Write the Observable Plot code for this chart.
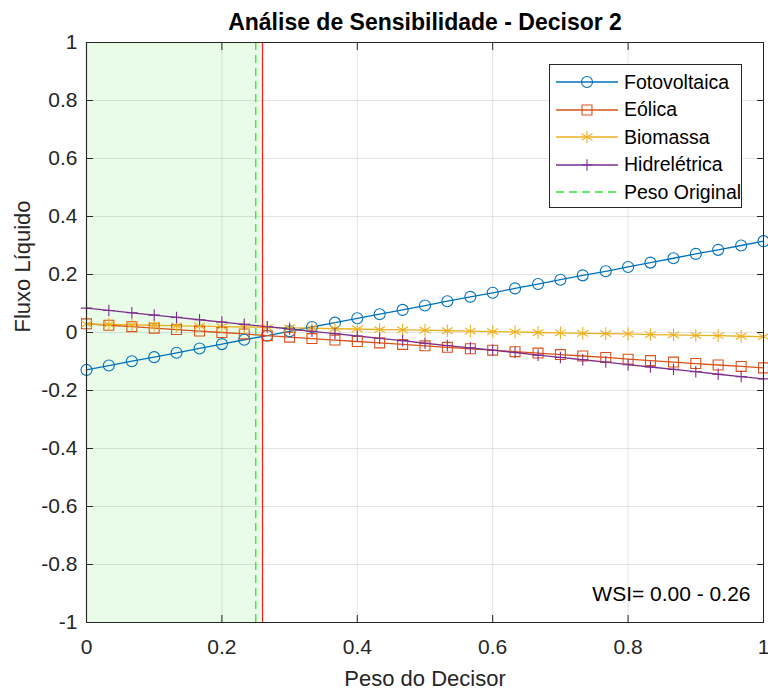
<!DOCTYPE html>
<html>
<head>
<meta charset="utf-8">
<script src="https://cdn.jsdelivr.net/npm/d3@7"></script>
<script src="https://cdn.jsdelivr.net/npm/@observablehq/plot@0.6"></script>
<style>
  body { margin: 0; background: #fff; }
  #wrap { position: relative; width: 768px; height: 690px; }
  #legend { position: absolute; left: 549px; top: 64px; width: 193px; height: 144px;
    border: 1px solid #262626; background: #fff; box-sizing: border-box;
    font-family: "Liberation Sans", Arial, Helvetica, sans-serif; font-size: 19.5px; color: #000; }
  .row { position: absolute; left: 6px; height: 26px; display: flex; align-items: center; white-space: nowrap; }
  .row svg { margin-right: 6px; }
</style>
</head>
<body>
<div id="wrap"><div id="legend"></div></div>
<script>
// ---- data ----
const weights = [0, 0.033, 0.067, 0.1, 0.133, 0.167, 0.2, 0.233, 0.267, 0.3, 0.333, 0.367, 0.4, 0.433, 0.467, 0.5,
  0.533, 0.567, 0.6, 0.633, 0.667, 0.7, 0.733, 0.767, 0.8, 0.833, 0.867, 0.9, 0.933, 0.967, 1];
const fotovoltaica = [-0.129, -0.114, -0.099, -0.085, -0.070, -0.055, -0.040, -0.025, -0.011, 0.004, 0.019, 0.034,
  0.049, 0.063, 0.078, 0.093, 0.108, 0.123, 0.137, 0.152, 0.167, 0.182, 0.197, 0.211, 0.226, 0.241, 0.256, 0.271,
  0.285, 0.300, 0.315];
const eolica = [0.030, 0.025, 0.020, 0.015, 0.010, 0.005, 0.000, -0.005, -0.011, -0.016, -0.021, -0.026, -0.031,
  -0.036, -0.041, -0.046, -0.051, -0.056, -0.061, -0.066, -0.071, -0.076, -0.081, -0.086, -0.092, -0.097, -0.102,
  -0.107, -0.112, -0.117, -0.122];
const biomassa = [0.029, 0.028, 0.026, 0.025, 0.023, 0.022, 0.020, 0.019, 0.018, 0.016, 0.015, 0.013, 0.012, 0.010,
  0.009, 0.008, 0.006, 0.005, 0.003, 0.002, 0.000, -0.001, -0.003, -0.004, -0.005, -0.007, -0.008, -0.010, -0.011,
  -0.013, -0.014];
const hidreletrica = [0.084, 0.076, 0.068, 0.060, 0.052, 0.044, 0.036, 0.028, 0.020, 0.012, 0.004, -0.004, -0.012,
  -0.020, -0.028, -0.037, -0.045, -0.053, -0.061, -0.069, -0.078, -0.086, -0.094, -0.102, -0.111, -0.119, -0.127,
  -0.135, -0.144, -0.152, -0.160];

const seriesNames = ["Fotovoltaica", "Eólica", "Biomassa", "Hidrelétrica"];
const seriesValues = [fotovoltaica, eolica, biomassa, hidreletrica];
const originalLabel = "Peso Original";
const wsiBounds = [0, 0.26];
const originalWeight = [0.25];
const wsiText = "WSI= 0.00 - 0.26";
const xTicks = [0, 0.2, 0.4, 0.6, 0.8, 1];
const xTickLabels = ["0", "0.2", "0.4", "0.6", "0.8", "1"];
const yTicks = [-1, -0.8, -0.6, -0.4, -0.2, 0, 0.2, 0.4, 0.6, 0.8, 1];
const yTickLabels = ["-1", "-0.8", "-0.6", "-0.4", "-0.2", "0", "0.2", "0.4", "0.6", "0.8", "1"];
const titleText = "Análise de Sensibilidade - Decisor 2";
const xLabel = "Peso do Decisor";
const yLabel = "Fluxo Líquido";

// ---- styles ----
const FONT = '"Liberation Sans", Arial, Helvetica, sans-serif';
const seriesColors = ["#0072BD", "#D95319", "#EDB120", "#7E2F8E"];
const seriesSymbols = ["circle", "square", "asterisk", "plus"];
const seriesR = [5.5, 5.6, 6, 3.8];
const INK = "#262626";

const rows = [];
seriesNames.forEach((s, k) => weights.forEach((w, i) => rows.push({serie: s, w, v: seriesValues[k][i]})));
const wsiRect = [{lo: wsiBounds[0], hi: wsiBounds[1]}];

const dotMarks = seriesNames.map((s, k) =>
  Plot.dot(rows.filter(d => d.serie === s), {x: "w", y: "v", stroke: seriesColors[k], fill: "none",
    symbol: seriesSymbols[k], r: seriesR[k], strokeWidth: 1.1}));
const lineMarks = seriesNames.map((s, k) =>
  Plot.line(rows.filter(d => d.serie === s), {x: "w", y: "v", stroke: seriesColors[k], strokeWidth: 1.3}));

const chart = Plot.plot({
  width: 768, height: 690,
  marginLeft: 86, marginRight: 5, marginTop: 42, marginBottom: 68,
  x: {domain: [0, 1]},
  y: {domain: [-1, 1]},
  style: {fontFamily: FONT, fontSize: "21px", color: INK, background: "white", overflow: "visible"},
  marks: [
    Plot.rect(wsiRect, {x1: "lo", x2: "hi", fill: "#e8fce8"}),
    Plot.gridX(xTicks, {stroke: INK, strokeOpacity: 0.12}),
    Plot.gridY(yTicks, {stroke: INK, strokeOpacity: 0.12}),
    ...lineMarks,
    ...dotMarks,
    Plot.ruleX(wsiBounds, {stroke: "#ff1a1a", strokeWidth: 1.2}),
    Plot.ruleX(originalWeight, {stroke: "#33e633", strokeWidth: 1.3, strokeDasharray: "8,5"}),
    Plot.frame({stroke: INK}),
    // inward ticks on all sides
    Plot.axisX(xTicks, {anchor: "bottom", tickSize: 7, dy: -7, fill: "none", label: null, stroke: INK}),
    Plot.axisX(xTicks, {anchor: "top", tickSize: 7, dy: 7, fill: "none", label: null, stroke: INK}),
    Plot.axisY(yTicks, {anchor: "left", tickSize: 7, dx: 7, fill: "none", label: null, stroke: INK}),
    Plot.axisY(yTicks, {anchor: "right", tickSize: 7, dx: -7, fill: "none", label: null, stroke: INK}),
    // tick labels
    Plot.axisX(xTicks, {anchor: "bottom", tickSize: 0, tickPadding: 17, label: null, fontSize: 21,
      tickFormat: d => xTickLabels[xTicks.indexOf(d)]}),
    Plot.axisY(yTicks, {anchor: "left", tickSize: 0, tickPadding: 9, label: null, fontSize: 21,
      tickFormat: d => yTickLabels[yTicks.indexOf(d)]}),
    // texts
    Plot.text([titleText], {frameAnchor: "top", dy: -20, lineAnchor: "middle", fontSize: 23, fontWeight: "bold", fill: "#000"}),
    Plot.text([xLabel], {frameAnchor: "bottom", dy: 56, lineAnchor: "middle", fontSize: 22, fill: INK}),
    Plot.text([yLabel], {frameAnchor: "left", dx: -64, rotate: -90, lineAnchor: "middle", fontSize: 22, fill: INK}),
    Plot.text([wsiText], {frameAnchor: "bottom-right", dx: -13, dy: -28, lineAnchor: "middle", textAnchor: "end", fontSize: 21, fill: "#000"})
  ]
});
const wrap = document.getElementById("wrap");
wrap.insertBefore(chart, wrap.firstChild);

// ---- legend ----
const legend = document.getElementById("legend");
const entries = seriesNames.map((s, k) => ({label: s, color: seriesColors[k], symbol: seriesSymbols[k], r: seriesR[k], dash: null}));
entries.push({label: originalLabel, color: "#33e633", symbol: null, r: 0, dash: "8,5"});
const symbolMap = {circle: d3.symbolCircle, square: d3.symbolSquare, asterisk: d3.symbolAsterisk, plus: d3.symbolPlus};
entries.forEach((e, i) => {
  const row = document.createElement("div");
  row.className = "row";
  row.style.top = (4 + i * 27.5) + "px";
  const ns = "http://www.w3.org/2000/svg";
  const svg = document.createElementNS(ns, "svg");
  svg.setAttribute("width", 62); svg.setAttribute("height", 20);
  const line = document.createElementNS(ns, "line");
  line.setAttribute("x1", 0); line.setAttribute("x2", 62); line.setAttribute("y1", 10); line.setAttribute("y2", 10);
  line.setAttribute("stroke", e.color); line.setAttribute("stroke-width", 1.3);
  if (e.dash) line.setAttribute("stroke-dasharray", e.dash);
  svg.appendChild(line);
  if (e.symbol) {
    const p = document.createElementNS(ns, "path");
    p.setAttribute("d", d3.symbol(symbolMap[e.symbol], Math.PI * e.r * e.r)());
    p.setAttribute("transform", "translate(31,10)");
    p.setAttribute("fill", "none"); p.setAttribute("stroke", e.color); p.setAttribute("stroke-width", 1.1);
    svg.appendChild(p);
  }
  row.appendChild(svg);
  const t = document.createElement("span");
  t.textContent = e.label;
  row.appendChild(t);
  legend.appendChild(row);
});
</script>
</body>
</html>
